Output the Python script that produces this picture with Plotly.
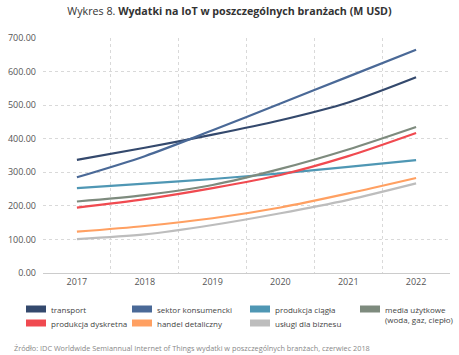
import plotly.graph_objects as go

years = ["2017", "2018", "2019", "2020", "2021", "2022"]

transport = [337, 373, 412, 455, 508, 583]
sektor_konsumencki = [285, 348, 425, 505, 585, 665]
produkcja_ciagla = [253, 266, 280, 297, 316, 336]
media_uzytkowe = [213, 232, 262, 310, 368, 435]
produkcja_dyskretna = [195, 220, 253, 292, 348, 417]
handel_detaliczny = [123, 140, 163, 195, 237, 283]
uslugi_dla_biznesu = [101, 115, 143, 178, 218, 267]

y_ticks = [0, 100, 200, 300, 400, 500, 600, 700]

series = [
    ("transport", transport, "#34496D"),
    ("sektor konsumencki", sektor_konsumencki, "#4A6997"),
    ("produkcja ciągła", produkcja_ciagla, "#4F97B4"),
    ("media użytkowe<br>(woda, gaz, ciepło)", media_uzytkowe, "#7E8B7E"),
    ("produkcja dyskretna", produkcja_dyskretna, "#F04A50"),
    ("handel detaliczny", handel_detaliczny, "#FFA062"),
    ("usługi dla biznesu", uslugi_dla_biznesu, "#BDBDBD"),
]

FONT = "Open Sans"
fig = go.Figure()
xs = list(range(len(years)))
for name, vals, col in series:
    fig.add_trace(go.Scatter(
        x=xs, y=vals, mode="lines", name=name,
        line=dict(color=col, width=2.2, shape="spline", smoothing=0.8),
        showlegend=False,
    ))

# manual legend (rectangular swatches)
W, H = 459, 355
ml, mr, mt, mb = 43, 9, 38, 82
pw, ph = W - ml - mr, H - mt - mb
def px2paper_x(px):
    return (px - ml) / pw
def px2paper_y(py):
    return (H - mb - py) / ph

col_x = [26, 132, 250, 360]
row_y = [309, 323]
for i, (name, vals, col) in enumerate(series):
    r, c = divmod(i, 4)
    x0 = col_x[c]
    yc = row_y[r]
    fig.add_shape(type="rect", xref="paper", yref="paper",
                  x0=px2paper_x(x0), x1=px2paper_x(x0 + 20),
                  y0=px2paper_y(yc + 3.5), y1=px2paper_y(yc - 3.5),
                  fillcolor=col, line=dict(width=0))
    multi = "<br>" in name
    fig.add_annotation(xref="paper", yref="paper",
                       x=px2paper_x(x0 + 23), y=px2paper_y(yc - 7 if multi else yc),
                       xanchor="left", yanchor="top" if multi else "middle",
                       text=name, showarrow=False, align="left",
                       font=dict(family=FONT, size=8, color="#444"))

fig.update_layout(
    width=W, height=H,
    margin=dict(l=ml, r=mr, t=mt, b=mb),
    paper_bgcolor="white", plot_bgcolor="white",
    font=dict(family=FONT, color="#555"),
    title=dict(text="Wykres 8. <b>Wydatki na IoT w poszczególnych branżach (M USD)</b>",
               x=0.5, xanchor="center", y=1 - 11 / H, yanchor="middle",
               font=dict(family=FONT, size=10.7, color="#333")),
    xaxis=dict(range=[-0.5, 5.5], tickmode="array", tickvals=xs, ticktext=years,
               showgrid=False, showline=True, linecolor="#CCCCCC", linewidth=1,
               zeroline=False, ticks="", tickfont=dict(family=FONT, size=9, color="#555"),
               minor=dict(tickmode="array", tickvals=[0.5, 1.5, 2.5, 3.5, 4.5],
                          showgrid=True, gridcolor="#D9D9D9", griddash="dot", gridwidth=1,
                          ticks="")),
    yaxis=dict(range=[0, 700], tickmode="array", tickvals=y_ticks, tickformat=".2f",
               showgrid=True, gridcolor="#D9D9D9", griddash="dot", gridwidth=1,
               zeroline=False, showline=False, ticks="", ticklabelstandoff=6,
               tickfont=dict(family=FONT, size=9, color="#555")),
)

fig.add_annotation(xref="paper", yref="paper", x=px2paper_x(12), y=px2paper_y(348),
                   xanchor="left", yanchor="middle", showarrow=False,
                   text="Źródło: IDC Worldwide Semiannual Internet of Things wydatki w poszczególnych branżach, czerwiec 2018",
                   font=dict(family=FONT, size=7.3, color="#888"))

fig.write_html("out.html", config={"displayModeBar": False},
               post_script="document.body.style.margin='0';document.body.style.overflow='hidden';")
